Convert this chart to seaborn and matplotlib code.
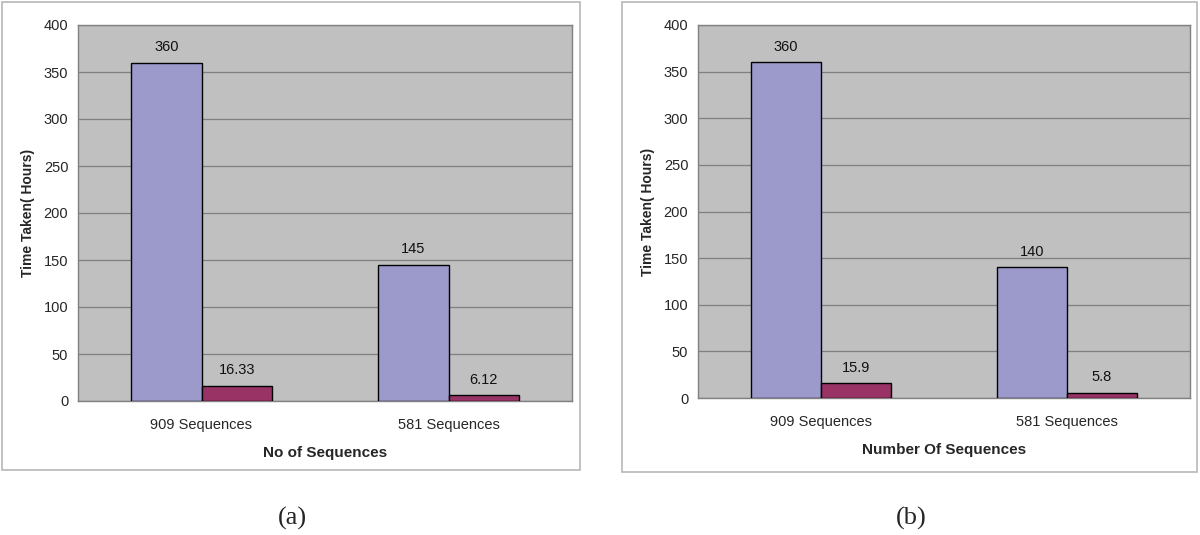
import pandas as pd
import seaborn as sns
import matplotlib.pyplot as plt
from matplotlib.patches import Rectangle
sns.set_style("white")
plt.rcParams['font.family'] = ['Liberation Sans', 'DejaVu Sans']

# Data
categories = ['909 Sequences', '581 Sequences']
series_names = ['Sequential', 'Parallel']
hours_a = [[360, 145], [16.33, 6.12]]
hours_b = [[360, 140], [15.9, 5.8]]
labels_a = [['360', '145'], ['16.33', '6.12']]
labels_b = [['360', '140'], ['15.9', '5.8']]
xlabels = ['No of Sequences', 'Number Of Sequences']
panel_tags = ['(a)', '(b)']
yticks = [0, 50, 100, 150, 200, 250, 300, 350, 400]

W, H = 1200, 535
fig = plt.figure(figsize=(12, 5.35), dpi=100)

def frac(l, t, r, b):
    return [l / W, 1 - b / H, (r - l) / W, (b - t) / H]

def make_df(vals):
    rows = []
    for s, name in enumerate(series_names):
        for c, cat in enumerate(categories):
            rows.append({'seq': cat, 'hours': vals[s][c], 'method': name})
    return pd.DataFrame(rows)

panels = [
    dict(ax=frac(78, 25, 572, 401), frame=(2, 2, 580, 470), vals=hours_a,
         labels=labels_a, xl=xlabels[0], tag=panel_tags[0], tagx=292),
    dict(ax=frac(698, 25, 1190, 398), frame=(622, 2, 1197, 472), vals=hours_b,
         labels=labels_b, xl=xlabels[1], tag=panel_tags[1], tagx=911),
]

for p in panels:
    l, t, r, b = p['frame']
    fig.patches.append(Rectangle((l / W, 1 - b / H), (r - l) / W, (b - t) / H,
                                 transform=fig.transFigure, fill=False,
                                 edgecolor='#b8b8b8', linewidth=1.2))
    ax = fig.add_axes(p['ax'])
    ax.set_facecolor('#C0C0C0')
    sns.barplot(data=make_df(p['vals']), x='seq', y='hours', hue='method',
                palette=['#9C9ACB', '#993366'], edgecolor='black', linewidth=1,
                width=0.57, gap=0, legend=False, saturation=1, ax=ax, zorder=3)
    for cont, labs in zip(ax.containers, p['labels']):
        ax.bar_label(cont, labels=labs, padding=6, fontsize=10.5, color='#111111')
    ax.set_ylim(0, 400)
    ax.set_xlim(-0.5, 1.5)
    ax.set_yticks(yticks)
    ax.yaxis.grid(True, color='#808080', linewidth=0.9, zorder=0)
    ax.set_axisbelow(True)
    ax.set_xticks([0, 1])
    ax.set_xticks([-0.5, 0.5, 1.5], minor=True)
    ax.tick_params(axis='x', which='major', length=0, labelsize=10.5, pad=12)
    ax.tick_params(axis='x', which='minor', length=5, color='#808080', direction='out')
    ax.tick_params(axis='y', length=4, color='#808080', direction='out', labelsize=10.5, pad=3)
    for s in ax.spines.values():
        s.set_color('#808080')
        s.set_linewidth(1)
    ax.set_xlabel(p['xl'], fontsize=11, fontweight='bold', labelpad=10)
    ax.set_ylabel('Time Taken( Hours)', fontsize=10, fontweight='bold', labelpad=6)
    fig.text(p['tagx'] / W, 1 - 518 / H, p['tag'], ha='center', va='center',
             fontsize=19, family='Liberation Serif')

plt.savefig('out.png', dpi=100)
